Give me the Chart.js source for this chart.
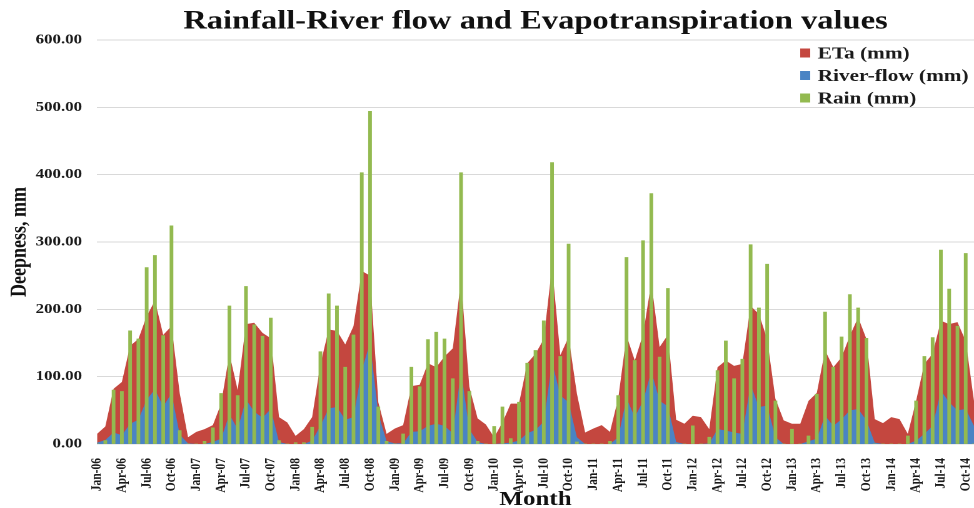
<!DOCTYPE html>
<html>
<head>
<meta charset="utf-8">
<script src="https://cdn.jsdelivr.net/npm/chart.js@4.4.1/dist/chart.umd.min.js"></script>
<style>
  html, body { margin: 0; padding: 0; background: #fff; overflow: hidden; }
  #wrap { width: 779px; height: 508px; transform: scaleX(1.2503); transform-origin: 0 0; }
</style>
</head>
<body>
<div id="wrap"><canvas id="grafico"></canvas></div>
<script>
// month labels Jan-06 .. Nov-14
const meses = ["Jan", "Feb", "Mar", "Apr", "May", "Jun", "Jul", "Aug", "Sep", "Oct", "Nov", "Dec"];
const anos = ["06", "07", "08", "09", "10", "11", "12", "13", "14"];
const categorias = anos.flatMap(a => meses.map(m => m + "-" + a)).slice(0, 107);

const eta = [
  15, 26, 82, 92, 146, 156, 190, 213, 162, 175, 75, 10,
  18, 22, 28, 60, 134, 80, 178, 180, 165, 157, 40, 32,
  12, 22, 40, 118, 170, 168, 148, 175, 257, 250, 62, 15,
  23, 28, 86, 88, 120, 114, 130, 142, 244, 85, 38, 29,
  10, 32, 60, 60, 120, 134, 156, 264, 132, 159, 75, 17,
  23, 28, 18, 68, 161, 124, 163, 240, 144, 162, 36, 30,
  42, 40, 22, 114, 124, 116, 119, 205, 193, 156, 67, 35,
  30, 30, 64, 76, 139, 114, 129, 161, 188, 156, 37, 31,
  40, 37, 15, 64, 119, 134, 183, 178, 181, 153, 64
];

const riverFlow = [
  2, 6, 17, 13, 30, 36, 66, 81, 56, 75, 14, 1,
  0, 0, 3, 8, 44, 22, 66, 48, 39, 52, 3, 0,
  0, 0, 5, 27, 53, 55, 36, 40, 110, 150, 45, 4,
  1, 1, 18, 19, 27, 30, 27, 16, 108, 22, 3, 0,
  0, 1, 2, 5, 16, 21, 33, 122, 72, 62, 10, 0,
  0, 0, 0, 10, 68, 40, 64, 108, 64, 56, 3, 0,
  0, 0, 1, 22, 20, 17, 15, 88, 55, 57, 10, 0,
  0, 0, 4, 8, 42, 27, 37, 50, 52, 35, 2, 0,
  0, 0, 0, 5, 15, 27, 79, 62, 50, 52, 27
];

const rain = [
  0, 5, 80, 78, 168, 156, 262, 280, 161, 324, 20, 0,
  0, 4, 24, 75, 205, 72, 234, 177, 160, 187, 5, 0,
  2, 2, 25, 137, 223, 205, 114, 162, 403, 494, 55, 4,
  0, 15, 114, 85, 155, 166, 156, 97, 403, 78, 4, 0,
  26, 55, 8, 62, 120, 139, 183, 418, 130, 297, 3, 0,
  0, 0, 4, 72, 277, 124, 302, 372, 129, 231, 0, 0,
  27, 0, 10, 109, 153, 97, 126, 296, 202, 267, 64, 0,
  22, 0, 12, 74, 196, 114, 159, 222, 202, 157, 0, 0,
  0, 0, 12, 64, 130, 158, 288, 230, 175, 283, 0
];

const serif = '"Liberation Serif", "Times New Roman", serif';

// legend drawn inside the plot, top right
const legendaCanto = {
  id: "legendaCanto",
  afterDraw(chart) {
    const ctx = chart.ctx;
    ctx.save();
    ctx.font = "bold 17px " + serif;
    ctx.textBaseline = "middle";
    chart.data.datasets.forEach((ds, i) => {
      const y = 53 + i * 22.5;
      ctx.fillStyle = ds.backgroundColor;
      ctx.fillRect(640, y - 4.5, 8, 9);
      ctx.fillStyle = "#1a1a1a";
      ctx.fillText(ds.label, 654, y + 1);
    });
    ctx.restore();
  }
};

const ctx = document.getElementById("grafico").getContext("2d");
const chart = new Chart(ctx, {
  type: "line",
  data: {
    labels: categorias,
    datasets: [
      {
        label: "ETa (mm)",
        data: eta,
        backgroundColor: "#C4473F",
        borderWidth: 0,
        pointRadius: 0,
        fill: "origin",
        tension: 0,
        order: 2
      },
      {
        label: "River-flow (mm)",
        data: riverFlow,
        backgroundColor: "#4A84C4",
        borderWidth: 0,
        pointRadius: 0,
        fill: "origin",
        tension: 0,
        order: 1
      },
      {
        type: "bar",
        label: "Rain (mm)",
        data: rain,
        backgroundColor: "#93BA50",
        barThickness: 2.3,
        order: 0
      }
    ]
  },
  plugins: [legendaCanto],
  options: {
    responsive: true,
    maintainAspectRatio: false,
    devicePixelRatio: 2,
    animation: false,
    layout: { padding: 0 },
    plugins: {
      legend: { display: false },
      tooltip: { enabled: false },
      title: {
        display: true,
        fullSize: false,
        text: "Rainfall-River flow and Evapotranspiration values",
        color: "#111",
        font: { family: serif, size: 26, weight: "bold", lineHeight: 1.2 },
        padding: { top: 6, bottom: 2.8 }
      }
    },
    scales: {
      x: {
        type: "category",
        offset: false,
        grid: { display: false },
        border: { display: false },
        ticks: {
          autoSkip: false,
          maxRotation: 90,
          minRotation: 90,
          padding: 6,
          color: "#1a1a1a",
          font: { family: serif, size: 11.5, weight: "bold" },
          callback: (v, i) => (i % 3 === 0 ? categorias[i] : "")
        },
        title: {
          display: true,
          text: "Month",
          color: "#111",
          font: { family: serif, size: 20, weight: "bold", lineHeight: 0.8 },
          padding: { top: 0, bottom: 0 }
        },
        afterFit: s => {
          s.height = 64;
          s.paddingLeft = 0;
          s.paddingRight = 0;
        }
      },
      y: {
        min: 0,
        max: 600,
        ticks: {
          stepSize: 100,
          padding: 12,
          color: "#1a1a1a",
          font: { family: serif, size: 13.5, weight: "bold" },
          callback: v => v.toFixed(2)
        },
        grid: { color: "#d9d9d9", drawTicks: false },
        border: { display: false },
        title: {
          display: true,
          text: "Deepness, mm",
          color: "#111",
          font: { family: serif, size: 18, weight: "bold", lineHeight: 1.2 },
          padding: { top: 5, bottom: 0 }
        },
        afterFit: s => { s.width = 77.6; }
      }
    }
  }
});
</script>
</body>
</html>
